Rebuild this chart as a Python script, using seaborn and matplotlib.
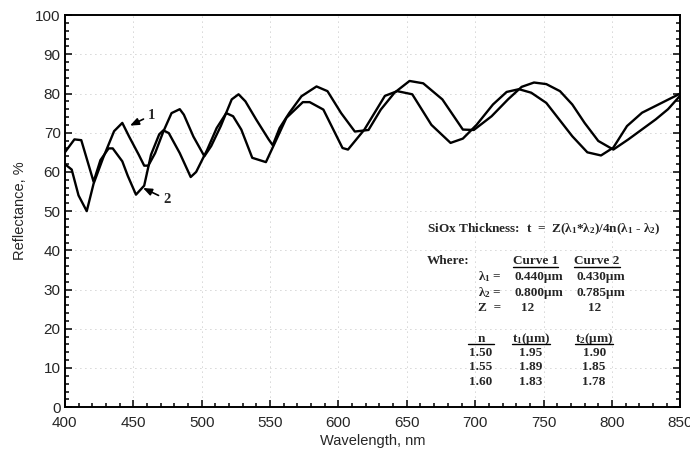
import pandas as pd
import matplotlib
matplotlib.use("Agg")
import matplotlib.pyplot as plt
from matplotlib.ticker import MultipleLocator
from matplotlib.lines import Line2D
from matplotlib.transforms import IdentityTransform
import seaborn as sns

# curve 1 (wavelength nm, reflectance %)
wl1 = [400, 405, 410, 416, 421, 428, 436, 442, 447, 454, 458, 461, 466, 472, 478, 484,
       487, 494, 502, 507, 514, 522, 527, 532, 540, 549, 552, 557, 564, 573, 584, 592,
       602, 612, 622, 631, 641, 652, 662, 676, 691, 699, 712, 724, 734, 743, 752, 762,
       771, 780, 790, 801, 812, 832, 841, 850]
r1 = [62.0, 60.6, 54.0, 50.0, 57.0, 63.6, 70.4, 72.5, 69.0, 64.4, 61.6, 61.6, 64.8, 70.3, 75.0, 76.0,
      74.6, 69.0, 64.0, 66.6, 71.7, 78.5, 79.8, 78.0, 73.3, 68.3, 66.8, 71.2, 75.0, 79.3, 81.8, 80.6,
      75.0, 70.3, 70.7, 75.9, 80.2, 83.2, 82.6, 78.5, 70.8, 70.7, 74.2, 78.5, 81.7, 82.8, 82.4, 80.6,
      77.2, 72.5, 67.9, 65.7, 68.3, 73.4, 76.0, 79.5]

# curve 2
wl2 = [400, 407, 412, 421, 426, 432, 435, 442, 446, 452, 458, 463, 469, 472, 476, 484,
       492, 496, 504, 511, 518, 523, 529, 537, 547, 553, 562, 574, 579, 589, 603, 607,
       619, 634, 643, 654, 668, 682, 691, 701, 713, 723, 732, 741, 752, 771, 782, 792,
       801, 811, 822, 834, 850]
r2 = [65.0, 68.3, 68.1, 57.5, 63.0, 66.0, 66.0, 62.7, 59.0, 54.2, 56.5, 64.4, 69.6, 70.6, 69.9, 64.8,
      58.7, 60.0, 65.6, 71.2, 75.0, 74.2, 70.8, 63.6, 62.5, 67.0, 73.8, 77.8, 77.8, 75.9, 66.1, 65.7,
      70.8, 79.4, 80.6, 79.8, 72.0, 67.4, 68.5, 72.0, 77.2, 80.4, 81.1, 80.2, 77.6, 69.1, 65.0, 64.2,
      66.2, 71.7, 75.1, 77.2, 80.0]

x_ticks = list(range(400, 851, 50))
y_ticks = list(range(0, 101, 10))

df = pd.concat([
    pd.DataFrame({"wavelength": wl1, "reflectance": r1, "curve": "1"}),
    pd.DataFrame({"wavelength": wl2, "reflectance": r2, "curve": "2"}),
], ignore_index=True)

sns.set_theme(style="ticks")
plt.rcParams["font.family"] = ["Liberation Sans", "DejaVu Sans"]
plt.rcParams["mathtext.fontset"] = "custom"
plt.rcParams["mathtext.rm"] = "Liberation Serif:bold"
plt.rcParams["mathtext.it"] = "Liberation Serif:bold"
plt.rcParams["mathtext.bf"] = "Liberation Serif:bold"
plt.rcParams["mathtext.default"] = "rm"

fig = plt.figure(figsize=(6.9, 4.57), dpi=100)
ax = fig.add_axes([0.094, 0.109, 0.892, 0.858])

sns.lineplot(data=df, x="wavelength", y="reflectance", hue="curve",
             palette=["black", "black"], legend=False, sort=False,
             estimator=None, lw=1.7, ax=ax)

ax.set_xlim(400, 850)
ax.set_ylim(0, 100)
ax.set_xticks(x_ticks)
ax.set_yticks(y_ticks)
ax.xaxis.set_minor_locator(MultipleLocator(10))
ax.yaxis.set_minor_locator(MultipleLocator(2))
ax.tick_params(which="both", direction="in", right=True, top=False, color="black", width=1.1)
ax.tick_params(which="major", length=5, labelsize=11)
ax.tick_params(which="minor", length=3)
ax.tick_params(axis="x", which="major", pad=6)
ax.tick_params(axis="y", which="major", pad=3)
ax.grid(True, which="major", color="#aaaaaa", lw=0.6, ls=(0, (1, 5)))
for s in ax.spines.values():
    s.set_linewidth(1.4)
    s.set_color("black")

ax.set_xlabel("Wavelength, nm", fontsize=10.5, labelpad=3)
ax.set_ylabel("Reflectance, %", fontsize=10.5, labelpad=6)

serif = dict(family=["Liberation Serif", "DejaVu Serif"], weight="bold", fontsize=9.5,
             va="baseline")

ax.text(664.6, 44.5, r"SiOx Thickness:  t  =  Z($\lambda_1$*$\lambda_2$)/4n($\lambda_1$ - $\lambda_2$)",
        ha="left", **serif)
ax.text(664.6, 36.4, "Where:", ha="left", **serif)
underlined = []
underlined.append((ax.text(744.1, 36.4, "Curve 1", ha="center", **serif), 0))
underlined.append((ax.text(789.2, 36.4, "Curve 2", ha="center", **serif), 0))

ax.text(702, 32.4, r"$\lambda_1$ =", ha="left", **serif)
ax.text(746.3, 32.4, "0.440µm", ha="center", **serif)
ax.text(792.1, 32.4, "0.430µm", ha="center", **serif)
ax.text(702, 28.3, r"$\lambda_2$ =", ha="left", **serif)
ax.text(746.3, 28.3, "0.800µm", ha="center", **serif)
ax.text(792.1, 28.3, "0.785µm", ha="center", **serif)
ax.text(702, 24.6, "Z  =", ha="left", **serif)
ax.text(738, 24.6, "12", ha="center", **serif)
ax.text(787, 24.6, "12", ha="center", **serif)

underlined.append((ax.text(704.2, 16.7, "n", ha="center", **serif), 9))
underlined.append((ax.text(740.8, 16.7, r"t$_1$(µm)", ha="center", **serif), 0))
underlined.append((ax.text(787, 16.7, r"t$_2$(µm)", ha="center", **serif), 0))

n_vals = ["1.50", "1.55", "1.60"]
t1_vals = ["1.95", "1.89", "1.83"]
t2_vals = ["1.90", "1.85", "1.78"]
row_y = [13.1, 9.45, 5.6]
for yy, n, a, b in zip(row_y, n_vals, t1_vals, t2_vals):
    ax.text(704.2, yy, n, ha="center", **serif)
    ax.text(740.8, yy, a, ha="center", **serif)
    ax.text(787, yy, b, ha="center", **serif)

arrow = dict(arrowstyle="-|>,head_length=0.5,head_width=0.2", color="black", lw=1.2,
             shrinkA=1, shrinkB=0)
ax.annotate("1", xy=(447.6, 71.8), xytext=(460.8, 74.5), fontsize=10.5,
            family=["Liberation Serif"], weight="bold", va="center", ha="left",
            arrowprops=arrow)
ax.annotate("2", xy=(457.1, 55.9), xytext=(471.8, 53.0), fontsize=10.5,
            family=["Liberation Serif"], weight="bold", va="center", ha="left",
            arrowprops=arrow)

# underline the table headers
fig.canvas.draw()
renderer = fig.canvas.get_renderer()
base = ax.transData.transform
for t, extra in underlined:
    bb = t.get_window_extent(renderer)
    yb = base((0, t.get_position()[1]))[1] - 2.5
    fig.add_artist(Line2D([bb.x0 - extra, bb.x1 + extra], [yb, yb], color="black", lw=1.0,
                          transform=IdentityTransform()))

fig.savefig("out.png", dpi=100)
